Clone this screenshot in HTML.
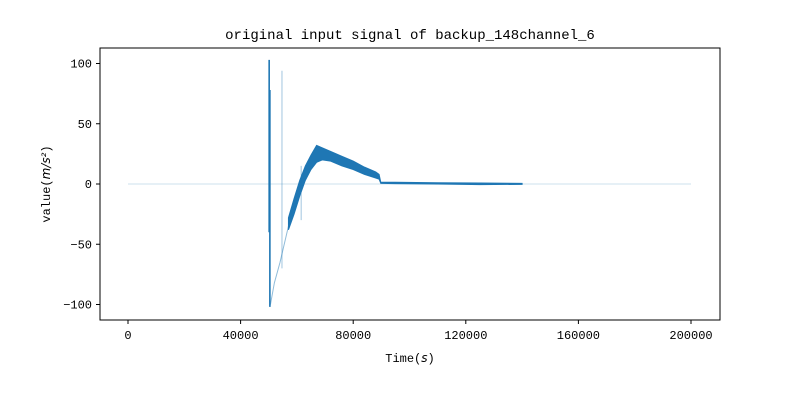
<!DOCTYPE html>
<html><head><meta charset="utf-8"><style>
body{margin:0;background:#fff}
text{font-family:"Liberation Mono","DejaVu Sans Mono",monospace;font-size:12px;fill:#000}
</style></head><body>
<svg id="c" width="800" height="400" xmlns="http://www.w3.org/2000/svg">
<text x="410" y="39" text-anchor="middle" style="font-size:14px">original input signal of backup_148channel_6</text>
<g id="marks"></g>
<rect x="100" y="48" width="620" height="272" fill="none" stroke="#000" stroke-width="1"/>
<g id="axes"></g>
<text x="410" y="362" text-anchor="middle">Time(<tspan font-style="italic" font-family="DejaVu Sans">s</tspan>)</text>
<text transform="translate(50,184) rotate(-90)" text-anchor="middle">value(<tspan font-style="italic" font-family="DejaVu Sans">m/s²</tspan>)</text>
</svg>
<script>
const xTicks=[0,40000,80000,120000,160000,200000];
const yTicks=[100,50,0,-50,-100];
// noisy envelope: time, lower, upper
const times=[57000,59000,61000,63000,65000,67000,69000,72000,76000,80000,84000,88000,89200,89800,95000,110000,125000,140000];
const lows=[-38,-25,-10,3,12,18,20,19,15,12,8,5,4,0.5,0.3,0,-0.5,-0.3];
const highs=[-28,-12,3,15,24,32,30,27,23,19,14,10,8,1.5,1.5,1,0.8,0.5];
// faint recovery trace from minimum into noisy region
const recT=[50600,52000,54000,56000,57000];
const recV=[-100,-82,-65,-45,-35];
const spikeT=[50150,50400,54700,61500];
const spikeLo=[-40,-102,-70,-30];
const spikeHi=[103,78,94,15];
const X=t=>128+t*(563/200000);
const Y=v=>184-v*1.205;
const ns="http://www.w3.org/2000/svg";
const marks=document.getElementById('marks'),axes=document.getElementById('axes');
function mk(tag,a,p){const e=document.createElementNS(ns,tag);for(const k in a)e.setAttribute(k,a[k]);p.appendChild(e);return e;}
const base=mk('line',{x1:X(0),x2:X(200000),y1:Y(0),y2:Y(0),stroke:'#1f77b4','stroke-opacity':0.15,'stroke-width':1.5},marks);


const rec=mk('polyline',{points:recT.map((t,i)=>X(t)+','+Y(recV[i])).join(' '),fill:'none',stroke:'#1f77b4','stroke-opacity':0.5,'stroke-width':1},marks);


let pts=times.map((t,i)=>X(t)+','+Y(highs[i]));
pts=pts.concat(times.slice().reverse().map((t,j)=>{const i=times.length-1-j;return X(t)+','+Y(lows[i]);}));
const band=mk('polygon',{points:pts.join(' '),fill:'#1f77b4',stroke:'#1f77b4','stroke-width':1},marks);


spikeT.forEach((t,i)=>{
  const s=mk('line',{x1:X(t),x2:X(t),y1:Y(spikeLo[i]),y2:Y(spikeHi[i]),stroke:'#1f77b4','stroke-width':i<2?1.6:0.7,'stroke-opacity':i<2?1:0.6},marks);
  
  
});
xTicks.forEach(v=>{
  const x=X(v);
  const l=mk('line',{x1:x,x2:x,y1:320,y2:324,stroke:'#000'},axes);
  
  
  const t=mk('text',{x:x,y:339,'text-anchor':'middle'},axes);t.textContent=v;
  
  
});
yTicks.forEach(v=>{
  const y=Y(v);
  const l=mk('line',{x1:96,x2:100,y1:y,y2:y,stroke:'#000'},axes);
  
  
  const t=mk('text',{x:92,y:y+4,'text-anchor':'end'},axes);t.textContent=v<0?'\u2212'+(-v):v;
  
  
});
</script>
</body></html>
